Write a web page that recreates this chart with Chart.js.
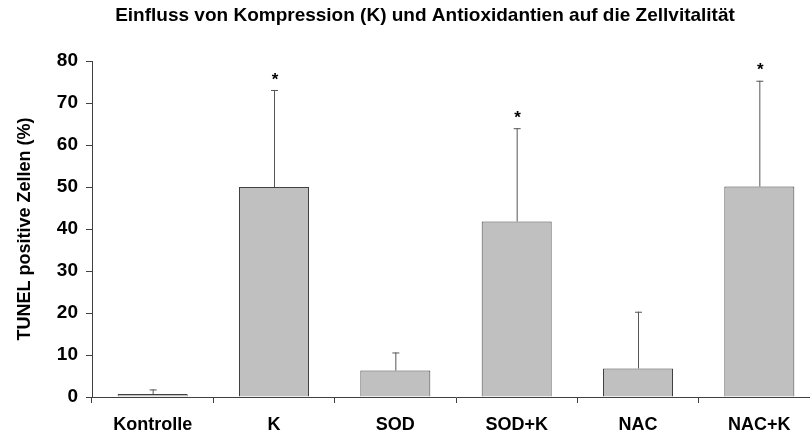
<!DOCTYPE html>
<html>
<head>
<meta charset="utf-8">
<script src="https://cdn.jsdelivr.net/npm/chart.js@4/dist/chart.umd.min.js"></script>
<style>
    html, body { margin: 0; padding: 0; background: #fff; overflow: hidden; }
    #wrap { width: 850px; height: 435px; }
</style>
</head>
<body>
<div id="wrap"><canvas id="myChart" width="850" height="435"></canvas></div>
<script>
const gruppen = ['Kontrolle', 'K', 'SOD', 'SOD+K', 'NAC', 'NAC+K'];
const mittelwerte = [0.7, 50.0, 6.3, 41.8, 6.8, 50.1];
const fehlerOben = [1.8, 73.1, 10.6, 64.0, 20.3, 75.3];
const signifikant = [false, true, false, true, false, true];
const yTicks = [0, 10, 20, 30, 40, 50, 60, 70, 80];

const schrift = "'Liberation Sans', Arial, sans-serif";
const ctx = document.getElementById('myChart').getContext('2d');

// Fehlerbalken (nur nach oben) und Sternchen
const fehlerPlugin = {
    id: 'fehlerbalken',
    afterDatasetsDraw(chart) {
        const c = chart.ctx;
        const x = chart.scales.x;
        const y = chart.scales.y;
        c.save();
        gruppen.forEach((g, i) => {
            const px = x.getPixelForValue(i);
            const y0 = y.getPixelForValue(mittelwerte[i]);
            const y1 = y.getPixelForValue(fehlerOben[i]);
            c.strokeStyle = '#555';
            c.lineWidth = 1;
            c.beginPath();
            c.moveTo(px + 0.5, y0);
            c.lineTo(px + 0.5, y1);
            c.moveTo(px - 3, y1 + 0.5);
            c.lineTo(px + 4, y1 + 0.5);
            c.stroke();
            if (signifikant[i]) {
                c.fillStyle = '#000';
                c.font = 'bold 17px ' + schrift;
                c.textAlign = 'center';
                c.textBaseline = 'middle';
                c.fillText('*', px + 1, y1 - 10);
            }
        });
        c.restore();
    }
};

new Chart(ctx, {
    type: 'bar',
    data: {
        labels: gruppen,
        datasets: [{
            data: mittelwerte,
            backgroundColor: '#c0c0c0',
            borderColor: '#404040',
            borderWidth: 1,
            borderSkipped: 'bottom',
            barPercentage: 0.577,
            categoryPercentage: 1
        }]
    },
    options: {
        responsive: false,
        animation: false,
        layout: { padding: 0 },
        plugins: {
            legend: { display: false },
            tooltip: { enabled: false },
            title: {
                display: true,
                text: 'Einfluss von Kompression (K) und Antioxidantien auf die Zellvitalität',
                color: '#000',
                font: { family: schrift, size: 19, weight: 'bold' },
                padding: { top: 4.6, bottom: 33.6 }
            }
        },
        scales: {
            x: {
                offset: true,
                grid: {
                    display: true,
                    offset: true,
                    drawOnChartArea: false,
                    drawTicks: true,
                    tickLength: 6,
                    color: '#404040'
                },
                border: { display: true, color: '#404040', width: 1 },
                ticks: {
                    color: '#000',
                    padding: 11,
                    font: { family: schrift, size: 18, weight: 'bold' },
                    maxRotation: 0,
                    autoSkip: false
                },
                afterFit(scale) { scale.height = 38; }
            },
            y: {
                min: 0,
                max: 80,
                afterBuildTicks(scale) { scale.ticks = yTicks.map(v => ({ value: v })); },
                grid: {
                    display: true,
                    drawOnChartArea: false,
                    drawTicks: true,
                    tickLength: 6,
                    color: '#404040'
                },
                border: { display: true, color: '#404040', width: 1 },
                ticks: {
                    color: '#000',
                    padding: 8,
                    font: { family: schrift, size: 19, weight: 'bold' }
                },
                title: {
                    display: true,
                    text: 'TUNEL positive Zellen (%)',
                    color: '#000',
                    font: { family: schrift, size: 18, weight: 'bold' },
                    padding: { top: 14, bottom: 0 }
                },
                afterFit(scale) { scale.width = 92; }
            },
            y2: {
                position: 'right',
                min: 0,
                max: 80,
                grid: { display: false },
                border: { display: false },
                ticks: { display: false },
                afterFit(scale) { scale.width = 30; }
            }
        }
    },
    plugins: [fehlerPlugin]
});
</script>
</body>
</html>
